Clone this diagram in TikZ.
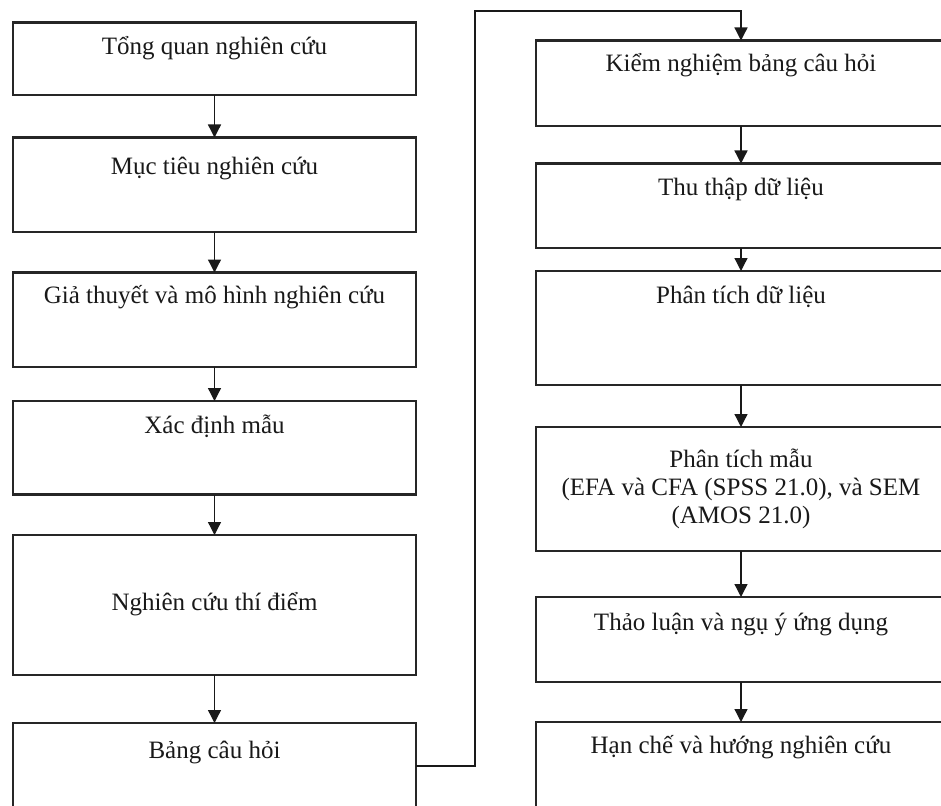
\documentclass[tikz,border=0pt]{standalone}
\usepackage{fontspec}
\setmainfont{Liberation Serif}
\usetikzlibrary{arrows.meta}
\begin{document}
\begin{tikzpicture}[x=1pt,y=-1pt,
  stepbox/.style={draw=black!85, line width=2.2pt, rectangle, inner sep=0pt, outer sep=0pt},
  lbox/.style={stepbox, minimum width=403pt},
  rbox/.style={stepbox, minimum width=410pt},
  lbl/.style={inner sep=0pt, outer sep=0pt, font=\fontsize{25}{28}\selectfont, text=black!90, align=center},
  flow/.style={draw=black!90, line width=1.3pt, -{Triangle[width=13pt,length=13pt]}}]
\useasboundingbox (0,0) rectangle (941,805);
\fill[white] (0,0) rectangle (941,805);
\clip (0,0) rectangle (941,805);

% left column
\node[lbox, minimum height=72.5pt] (L1) at (214.5,58.75) {};
\node[lbox, minimum height=94.5pt] (L2) at (214.5,184.75) {};
\node[lbox, minimum height=94.5pt] (L3) at (214.5,319.75) {};
\node[lbox, minimum height=93.5pt] (L4) at (214.5,447.75) {};
\node[lbox, minimum height=140pt]  (L5) at (214.5,605) {};
\node[lbox, minimum height=108pt]  (L6) at (214.5,777) {};

\node[lbl, anchor=base] (t1) at (214.5,55)  {Tổng quan nghiên cứu};
\node[lbl, anchor=base] (t2) at (214.5,175) {Mục tiêu nghiên cứu};
\node[lbl, anchor=base] (t3) at (214.5,303) {Giả thuyết và mô hình nghiên cứu};
\node[lbl, anchor=base] (t4) at (214.5,433) {Xác định mẫu};
\node[lbl, anchor=base] (t5) at (214.5,610) {Nghiên cứu thí điểm};
\node[lbl, anchor=base] (t6) at (214.5,758) {Bảng câu hỏi};

% right column
\node[rbox, minimum height=85.5pt] (R1) at (741,83.25) {};
\node[rbox, minimum height=84.5pt] (R2) at (741,205.75) {};
\node[rbox, minimum height=114pt]  (R3) at (741,328) {};
\node[rbox, minimum height=124pt]  (R4) at (741,489) {};
\node[rbox, minimum height=85pt]   (R5) at (741,639.5) {};
\node[rbox, minimum height=108pt]  (R6) at (741,776) {};

\node[lbl, anchor=base] (u1) at (741,72)  {Kiểm nghiệm bảng câu hỏi};
\node[lbl, anchor=base] (u2) at (741,195) {Thu thập dữ liệu};
\node[lbl, anchor=base] (u3) at (741,303) {Phân tích dữ liệu};
% base anchor of a multi-line node sits on its last line
\node[lbl, anchor=base] (u4) at (741,523) {Phân tích mẫu\\(EFA và CFA (SPSS 21.0), và SEM\\(AMOS 21.0)};
\node[lbl, anchor=base] (u5) at (741,630) {Thảo luận và ngụ ý ứng dụng};
\node[lbl, anchor=base] (u6) at (741,753) {Hạn chế và hướng nghiên cứu};

% connectors
\draw[flow] (L1.south) -- (L2.north);
\draw[flow] (L2.south) -- (L3.north);
\draw[flow] (L3.south) -- (L4.north);
\draw[flow] (L4.south) -- (L5.north);
\draw[flow] (L5.south) -- (L6.north);

\coordinate (j1) at (475,766);
\coordinate (j2) at (475,11);
\draw[flow] (L6.east |- j1) -- (j1) -- (j2) -- (R1.north |- j2) -- (R1.north);

\draw[flow] (R1.south) -- (R2.north);
\draw[flow] (R2.south) -- (R3.north);
\draw[flow] (R3.south) -- (R4.north);
\draw[flow] (R4.south) -- (R5.north);
\draw[flow] (R5.south) -- (R6.north);
\end{tikzpicture}
\end{document}
